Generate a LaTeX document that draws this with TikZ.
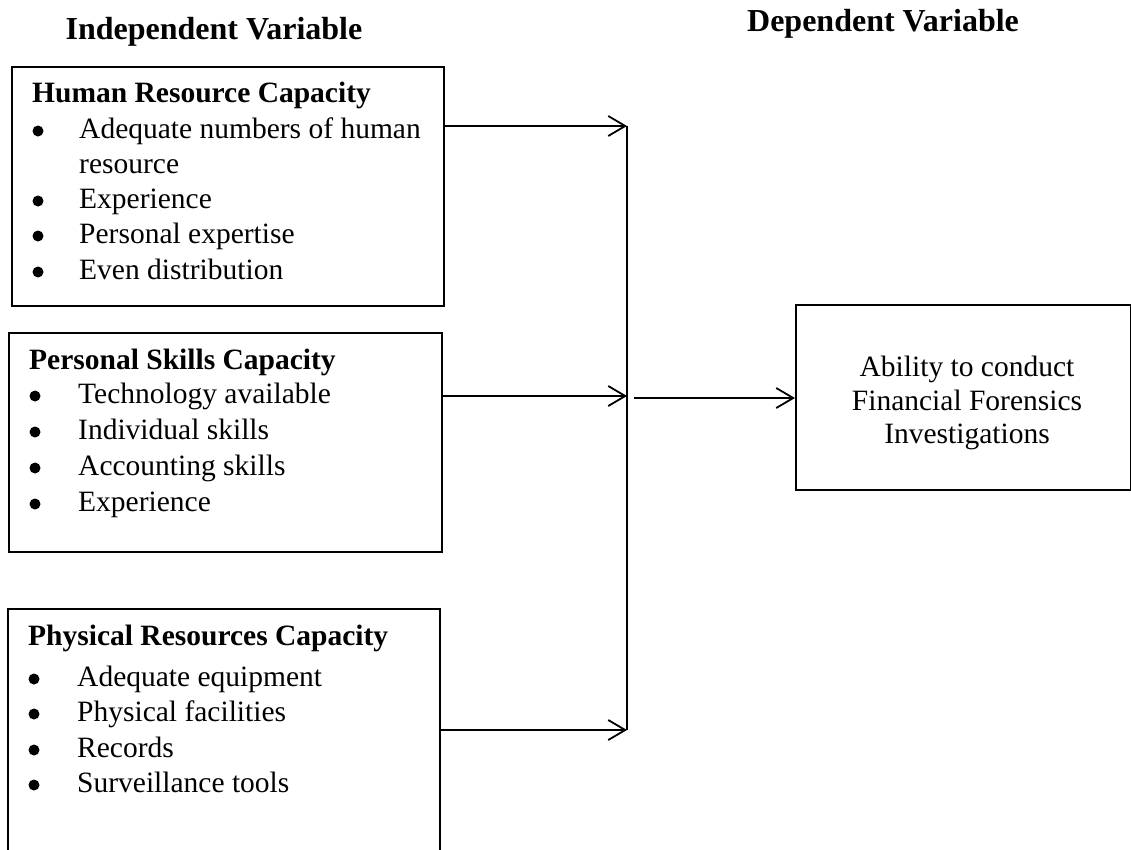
\documentclass[tikz,border=0pt]{standalone}
\usepackage{fontspec}
\setmainfont{Liberation Serif}
\usetikzlibrary{arrows.meta}
\tikzset{
  box/.style={draw, line width=1.6pt, inner sep=0pt, anchor=north west},
  body/.style={inner sep=0pt, font=\fontsize{29.5}{35}\selectfont},
  head/.style={inner sep=0pt, font=\fontsize{29.5}{35}\selectfont\bfseries},
  title/.style={inner sep=0pt, font=\fontsize{32}{36}\selectfont\bfseries},
  dot/.style={circle, fill, inner sep=0pt, minimum size=11pt},
  conn/.style={line width=1.8pt},
  arr/.style={line width=1.8pt, -{Straight Barb[length=17pt,width=20pt,line width=1.8pt]}}
}
\begin{document}
\begin{tikzpicture}[x=1pt,y=-1pt]
\useasboundingbox (0,0) rectangle (1131,849);
\clip (0,0) rectangle (1131,849);
% titles
\node[title, anchor=base] (tind) at (214,39) {Independent Variable};
\node[title, anchor=base] (tdep) at (883,31) {Dependent Variable};
% boxes
\node[box, minimum width=432pt, minimum height=239pt] (hr) at (11,66) {};
\node[box, minimum width=433pt, minimum height=219pt] (ps) at (8,332) {};
\node[box, minimum width=432pt, minimum height=260pt] (pr) at (7,608) {};
\node[box, minimum width=335pt, minimum height=185pt] (dv) at (795,304) {};
% box 1
\node[head, anchor=base west] (hrh) at (32,102) {Human Resource Capacity};
\node[dot] (hrb1) at (38,131) {};
\node[body, anchor=base west] (hri1) at (79,138) {Adequate numbers of human};
\node[body, anchor=base west] (hri1b) at (79,173) {resource};
\node[dot] (hrb2) at (38,201) {};
\node[body, anchor=base west] (hri2) at (79,208) {Experience};
\node[dot] (hrb3) at (38,236) {};
\node[body, anchor=base west] (hri3) at (79,243) {Personal expertise};
\node[dot] (hrb4) at (38,272) {};
\node[body, anchor=base west] (hri4) at (79,279) {Even distribution};
% box 2
\node[head, anchor=base west] (psh) at (29,369) {Personal Skills Capacity};
\node[dot] (psb1) at (35,396) {};
\node[body, anchor=base west] (psi1) at (78,403) {Technology available};
\node[dot] (psb2) at (35,432) {};
\node[body, anchor=base west] (psi2) at (78,439) {Individual skills};
\node[dot] (psb3) at (35,468) {};
\node[body, anchor=base west] (psi3) at (78,475) {Accounting skills};
\node[dot] (psb4) at (35,504) {};
\node[body, anchor=base west] (psi4) at (78,511) {Experience};
% box 3
\node[head, anchor=base west] (prh) at (28,645) {Physical Resources Capacity};
\node[dot] (prb1) at (34,679) {};
\node[body, anchor=base west] (pri1) at (77,686) {Adequate equipment};
\node[dot] (prb2) at (34,714) {};
\node[body, anchor=base west] (pri2) at (77,721) {Physical facilities};
\node[dot] (prb3) at (34,750) {};
\node[body, anchor=base west] (pri3) at (77,757) {Records};
\node[dot] (prb4) at (34,785) {};
\node[body, anchor=base west] (pri4) at (77,792) {Surveillance tools};
% box 4
\node[body, anchor=base] (dv1) at (967,376) {Ability to conduct};
\node[body, anchor=base] (dv2) at (967,410) {Financial Forensics};
\node[body, anchor=base] (dv3) at (967,443) {Investigations};
% connectors
\coordinate (j1) at (627,126);
\coordinate (j2) at (627,396);
\coordinate (j3) at (627,730);
\coordinate (js) at (634,398);
\draw[conn] (j1) -- (j3);
\draw[arr] (hr.east |- j1) -- (j1);
\draw[arr] (ps.east |- j2) -- (j2);
\draw[arr] (pr.east |- j3) -- (j3);
\draw[arr] (js) -- (dv.west |- js);
\end{tikzpicture}
\end{document}
